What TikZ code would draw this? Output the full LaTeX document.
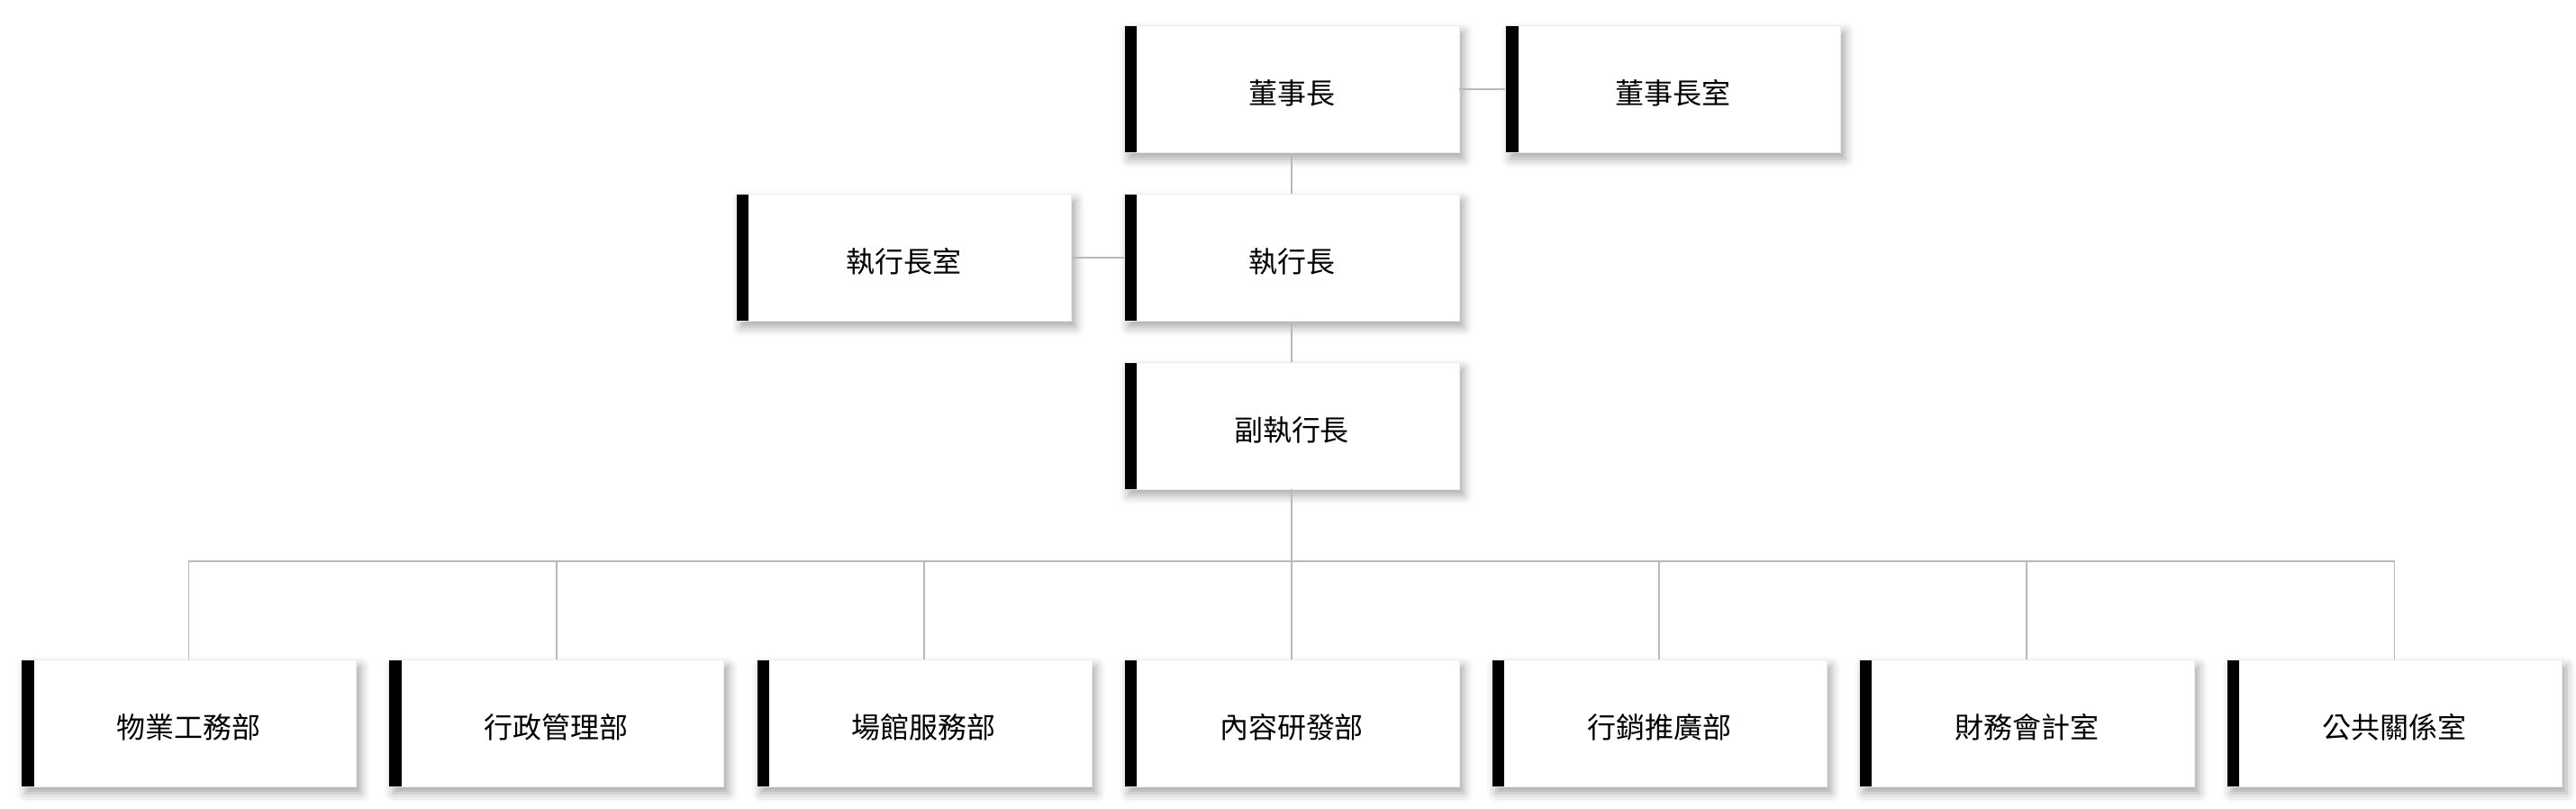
\documentclass[tikz,border=0pt]{standalone}
\usepackage{fontspec}
\setmainfont{Noto Sans CJK TC}
\usetikzlibrary{positioning, shadows.blur}
\definecolor{linkgray}{RGB}{185, 185, 185}

\begin{document}
\begin{tikzpicture}[
            node distance=0.45cm and 0.354cm,
            unitbox/.style={draw=black!8, line width=0.2pt, fill=white, minimum width=3.72cm, minimum height=1.41cm, inner sep=0pt, text height=0.334cm, text depth=0pt, font=\fontsize{9.1pt}{11pt}\selectfont,
                blur shadow={shadow xshift=0.05cm, shadow yshift=-0.07cm, shadow blur radius=0.1cm, shadow opacity=35},
                path picture={\fill[black] (path picture bounding box.north west) rectangle ([xshift=0.14cm]path picture bounding box.south west);}},
            link/.style={draw=linkgray, line width=0.45pt}
        ]
            \useasboundingbox (0,0) rectangle (28.6,-8.97);

            \node[unitbox] (chair) at (14.34,-0.99) {董事長};
            \node[unitbox, right=0.51cm of chair] (chairoffice) {董事長室};
            \node[unitbox, below=of chair] (ceo) {執行長};
            \node[unitbox, left=0.58cm of ceo] (ceooffice) {執行長室};
            \node[unitbox, below=of ceo] (vice) {副執行長};

            % departments
            \node[unitbox, below=1.89cm of vice] (content) {內容研發部};
            \node[unitbox, left=of content] (venue) {場館服務部};
            \node[unitbox, left=of venue] (admin) {行政管理部};
            \node[unitbox, left=of admin] (property) {物業工務部};
            \node[unitbox, right=of content] (marketing) {行銷推廣部};
            \node[unitbox, right=of marketing] (finance) {財務會計室};
            \node[unitbox, right=of finance] (pr) {公共關係室};

            \draw[link] (chair) -- (chairoffice);
            \draw[link] (chair) -- (ceo);
            \draw[link] (ceooffice) -- (ceo);
            \draw[link] (ceo) -- (vice);
            \coordinate (bus) at ([yshift=-0.8cm]vice.south);
            \draw[link] (vice) -- (bus);
            \draw[link] (property.north) |- (bus) -| (pr.north);
            \foreach \dept in {admin, venue, content, marketing, finance}
                \draw[link] (\dept) -- (\dept |- bus);
        \end{tikzpicture}
\end{document}
